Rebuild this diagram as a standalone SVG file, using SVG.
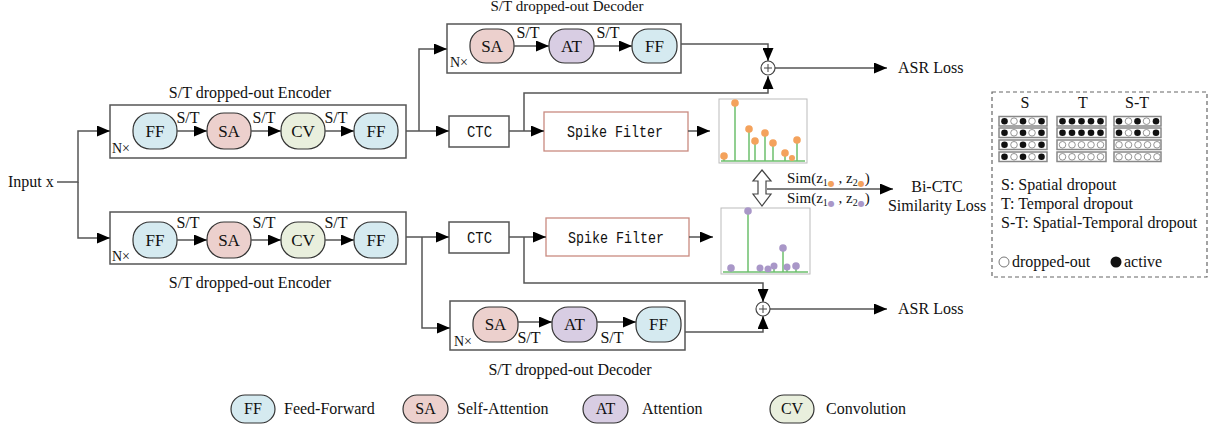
<svg xmlns="http://www.w3.org/2000/svg" width="1217" height="434" viewBox="0 0 1217 434">
<style>
text{font-family:"Liberation Serif","Times New Roman",serif;fill:#111}
.lbl{font-size:16px}
.nt{font-size:17px;text-anchor:middle}
.mono{font-family:"Liberation Mono","Courier New",monospace;font-size:16px}
.box{fill:#fff;stroke:#555;stroke-width:1.5}
.ln{fill:none;stroke:#555;stroke-width:1.5}
.ff{fill:#d5eaf0;stroke:#333;stroke-width:1.2}
.sa{fill:#ecd0cd;stroke:#333;stroke-width:1.2}
.at{fill:#d8cde3;stroke:#333;stroke-width:1.2}
.cv{fill:#e9efdd;stroke:#333;stroke-width:1.2}
.stem{stroke:#6cbf6c;stroke-width:1.5}
.od{fill:#f4a25c}
.pd{fill:#a997c8}
.row{fill:#fff;stroke:#888;stroke-width:1.5}
.on{fill:#111}
.off{fill:#fff;stroke:#888;stroke-width:0.9}
</style>
<defs>
<marker id="ah" viewBox="0 0 13 11" refX="13" refY="5.5" markerWidth="13" markerHeight="11" markerUnits="userSpaceOnUse" orient="auto"><path d="M0,0 L13,5.5 L0,11 z" fill="#000"/></marker>
</defs>

<text class="lbl" x="8" y="187">Input x</text>

<!-- top encoder -->
<g id="enc1">
  <text class="lbl" x="250" y="98" text-anchor="middle">S/T dropped-out Encoder</text>
  <rect class="box" x="110" y="105" width="296" height="53"/>
  <text x="112" y="153" font-size="14">N×</text>
  <rect class="ff" x="133" y="113" width="44" height="36" rx="17"/><text class="nt" x="155" y="137">FF</text>
  <rect class="sa" x="207" y="113" width="44" height="36" rx="17"/><text class="nt" x="229" y="137">SA</text>
  <rect class="cv" x="281" y="113" width="44" height="36" rx="17"/><text class="nt" x="303" y="137">CV</text>
  <rect class="ff" x="354" y="113" width="44" height="36" rx="17"/><text class="nt" x="376" y="137">FF</text>
  <text class="lbl" x="188" y="123" text-anchor="middle">S/T</text>
  <text class="lbl" x="264" y="123" text-anchor="middle">S/T</text>
  <text class="lbl" x="336" y="123" text-anchor="middle">S/T</text>
</g>

<!-- bottom encoder -->
<g id="enc2">
  <rect class="box" x="110" y="212" width="296" height="52"/>
  <text x="112" y="261" font-size="14">N×</text>
  <rect class="ff" x="133" y="222" width="44" height="36" rx="17"/><text class="nt" x="155" y="246">FF</text>
  <rect class="sa" x="207" y="222" width="44" height="36" rx="17"/><text class="nt" x="229" y="246">SA</text>
  <rect class="cv" x="281" y="222" width="44" height="36" rx="17"/><text class="nt" x="303" y="246">CV</text>
  <rect class="ff" x="354" y="222" width="44" height="36" rx="17"/><text class="nt" x="376" y="246">FF</text>
  <text class="lbl" x="188" y="228" text-anchor="middle">S/T</text>
  <text class="lbl" x="264" y="228" text-anchor="middle">S/T</text>
  <text class="lbl" x="336" y="228" text-anchor="middle">S/T</text>
  <text class="lbl" x="250" y="288" text-anchor="middle">S/T dropped-out Encoder</text>
</g>

<!-- top decoder -->
<g id="dec1">
  <text x="567" y="11" font-size="15" text-anchor="middle">S/T dropped-out Decoder</text>
  <rect class="box" x="447" y="24" width="234" height="49"/>
  <text x="450" y="67" font-size="14">N×</text>
  <rect class="sa" x="470" y="29" width="44" height="34" rx="16"/><text class="nt" x="492" y="52">SA</text>
  <rect class="at" x="549" y="29" width="45" height="34" rx="16"/><text class="nt" x="571.5" y="52">AT</text>
  <rect class="ff" x="632" y="29" width="45" height="34" rx="16"/><text class="nt" x="654.5" y="52">FF</text>
  <text class="lbl" x="528" y="38" text-anchor="middle">S/T</text>
  <text class="lbl" x="608" y="38" text-anchor="middle">S/T</text>
</g>

<!-- bottom decoder -->
<g id="dec2">
  <rect class="box" x="450" y="301" width="235" height="49"/>
  <text x="454" y="346" font-size="14">N×</text>
  <rect class="sa" x="473" y="307" width="45" height="35" rx="16"/><text class="nt" x="495.5" y="330">SA</text>
  <rect class="at" x="552" y="307" width="45" height="35" rx="16"/><text class="nt" x="574.5" y="330">AT</text>
  <rect class="ff" x="636" y="307" width="45" height="35" rx="16"/><text class="nt" x="658.5" y="330">FF</text>
  <text class="lbl" x="529" y="343" text-anchor="middle">S/T</text>
  <text class="lbl" x="612" y="343" text-anchor="middle">S/T</text>
  <text class="lbl" x="570" y="375" text-anchor="middle">S/T dropped-out Decoder</text>
</g>

<!-- CTC + spike filters -->
<g id="ctc1">
  <rect class="box" x="449" y="116" width="60" height="31"/>
  <text class="mono" x="467" y="137" textLength="25" lengthAdjust="spacingAndGlyphs">CTC</text>
</g>
<g id="ctc2">
  <rect class="box" x="449" y="222" width="60" height="31"/>
  <text class="mono" x="467" y="243" textLength="25" lengthAdjust="spacingAndGlyphs">CTC</text>
</g>
<g id="spike1">
  <rect x="544" y="112" width="144" height="39" fill="#fff" stroke="#c98a80" stroke-width="1.3"/>
  <text class="mono" x="567" y="137" textLength="96" lengthAdjust="spacingAndGlyphs">Spike Filter</text>
</g>
<g id="spike2">
  <rect x="546" y="218" width="143" height="38" fill="#fff" stroke="#c98a80" stroke-width="1.3"/>
  <text class="mono" x="568" y="243" textLength="96" lengthAdjust="spacingAndGlyphs">Spike Filter</text>
</g>

<!-- chart 1 -->
<g id="chart1">
  <rect x="719" y="99" width="88" height="64" fill="#fff" stroke="#bbb" stroke-width="1"/>
  <line class="stem" x1="721" y1="161" x2="805" y2="161"/>
  <line class="stem" x1="724" y1="156" x2="724" y2="161"/>
  <line class="stem" x1="735" y1="103" x2="735" y2="161"/>
  <line class="stem" x1="749" y1="129" x2="749" y2="161"/>
  <line class="stem" x1="755" y1="141" x2="755" y2="161"/>
  <line class="stem" x1="765" y1="133" x2="765" y2="161"/>
  <line class="stem" x1="773" y1="143" x2="773" y2="161"/>
  <line class="stem" x1="785" y1="153" x2="785" y2="161"/>
  <line class="stem" x1="792" y1="159" x2="792" y2="161"/>
  <line class="stem" x1="797" y1="140" x2="797" y2="161"/>
  <circle class="od" cx="724" cy="156" r="3.8"/>
  <circle class="od" cx="735" cy="103" r="3.8"/>
  <circle class="od" cx="749" cy="129" r="3.8"/>
  <circle class="od" cx="755" cy="141" r="3.8"/>
  <circle class="od" cx="765" cy="133" r="3.8"/>
  <circle class="od" cx="773" cy="143" r="3.8"/>
  <circle class="od" cx="785" cy="153" r="3.8"/>
  <circle class="od" cx="792" cy="158" r="3"/>
  <circle class="od" cx="797" cy="140" r="3.8"/>
</g>

<!-- chart 2 -->
<g id="chart2">
  <rect x="721" y="208" width="89" height="66" fill="#fff" stroke="#bbb" stroke-width="1"/>
  <line class="stem" x1="723" y1="272" x2="808" y2="272"/>
  <line class="stem" x1="731" y1="268" x2="731" y2="272"/>
  <line class="stem" x1="748" y1="211" x2="748" y2="272"/>
  <line class="stem" x1="760" y1="268" x2="760" y2="272"/>
  <line class="stem" x1="768" y1="269" x2="768" y2="272"/>
  <line class="stem" x1="774" y1="266" x2="774" y2="272"/>
  <line class="stem" x1="783" y1="248" x2="783" y2="272"/>
  <line class="stem" x1="787" y1="267" x2="787" y2="272"/>
  <line class="stem" x1="796" y1="266" x2="796" y2="272"/>
  <circle class="pd" cx="731" cy="268" r="3.8"/>
  <circle class="pd" cx="748" cy="211" r="3.8"/>
  <circle class="pd" cx="760" cy="268" r="3.5"/>
  <circle class="pd" cx="768" cy="269" r="3.5"/>
  <circle class="pd" cx="774" cy="266" r="3.5"/>
  <circle class="pd" cx="783" cy="248" r="3.8"/>
  <circle class="pd" cx="787" cy="267" r="3.5"/>
  <circle class="pd" cx="796" cy="266" r="3.8"/>
</g>

<!-- connectors -->
<g id="connectors">
  <polyline class="ln" points="57,182 78,182 78,131 110,131" marker-end="url(#ah)"/>
  <polyline class="ln" points="78,182 78,238 110,238" marker-end="url(#ah)"/>
  <line class="ln" x1="177" y1="131" x2="207" y2="131" marker-end="url(#ah)"/>
  <line class="ln" x1="251" y1="131" x2="281" y2="131" marker-end="url(#ah)"/>
  <line class="ln" x1="325" y1="131" x2="354" y2="131" marker-end="url(#ah)"/>
  <line class="ln" x1="177" y1="240" x2="207" y2="240" marker-end="url(#ah)"/>
  <line class="ln" x1="251" y1="240" x2="281" y2="240" marker-end="url(#ah)"/>
  <line class="ln" x1="325" y1="240" x2="354" y2="240" marker-end="url(#ah)"/>
  <line class="ln" x1="406" y1="131" x2="449" y2="131" marker-end="url(#ah)"/>
  <polyline class="ln" points="419,131 419,49 447,49" marker-end="url(#ah)"/>
  <line class="ln" x1="406" y1="237" x2="449" y2="237" marker-end="url(#ah)"/>
  <polyline class="ln" points="422,237 422,328 450,328" marker-end="url(#ah)"/>
  <line class="ln" x1="514" y1="46" x2="549" y2="46" marker-end="url(#ah)"/>
  <line class="ln" x1="594" y1="46" x2="632" y2="46" marker-end="url(#ah)"/>
  <line class="ln" x1="518" y1="322" x2="552" y2="322" marker-end="url(#ah)"/>
  <line class="ln" x1="597" y1="322" x2="636" y2="322" marker-end="url(#ah)"/>
  <line class="ln" x1="509" y1="131" x2="544" y2="131" marker-end="url(#ah)"/>
  <line class="ln" x1="509" y1="237" x2="546" y2="237" marker-end="url(#ah)"/>
  <line class="ln" x1="688" y1="131" x2="710" y2="131" marker-end="url(#ah)"/>
  <line class="ln" x1="689" y1="237" x2="713" y2="237" marker-end="url(#ah)"/>
  <polyline class="ln" points="524,131 524,93 768,93 768,76" marker-end="url(#ah)"/>
  <polyline class="ln" points="524,237 524,283 763,283 763,302" marker-end="url(#ah)"/>
  <polyline class="ln" points="681,44 768,44 768,61" marker-end="url(#ah)"/>
  <polyline class="ln" points="685,332 763,332 763,316" marker-end="url(#ah)"/>
  <line class="ln" x1="775" y1="68" x2="887" y2="68" marker-end="url(#ah)"/>
  <line class="ln" x1="770" y1="309" x2="887" y2="309" marker-end="url(#ah)"/>
  <line class="ln" x1="767" y1="189" x2="893" y2="189" marker-end="url(#ah)"/>
</g>

<!-- sums -->
<g id="sum1">
  <circle cx="768" cy="68" r="7" fill="#fff" stroke="#444" stroke-width="1.2"/>
  <path d="M764,68 H772 M768,64 V72" stroke="#444" stroke-width="1"/>
</g>
<g id="sum2">
  <circle cx="763" cy="309" r="7" fill="#fff" stroke="#444" stroke-width="1.2"/>
  <path d="M759,309 H767 M763,305 V313" stroke="#444" stroke-width="1"/>
</g>
<text class="lbl" x="898" y="73">ASR Loss</text>
<text class="lbl" x="898" y="314">ASR Loss</text>

<!-- similarity -->
<g id="sim">
  <polygon points="762,170 771,181 766,181 766,194 771,194 762,206 753,194 758,194 758,181 753,181" fill="#fff" stroke="#444" stroke-width="1.2"/>
  <text x="787" y="183" font-size="15">Sim(z<tspan font-size="10" dy="3">1</tspan><tspan font-family="DejaVu Sans" font-size="8" fill="#f4a25c">●</tspan><tspan dy="-3"> , z</tspan><tspan font-size="10" dy="3">2</tspan><tspan font-family="DejaVu Sans" font-size="8" fill="#f4a25c">●</tspan><tspan dy="-3">)</tspan></text>
  <text x="787" y="203" font-size="15">Sim(z<tspan font-size="10" dy="3">1</tspan><tspan font-family="DejaVu Sans" font-size="8" fill="#a997c8">●</tspan><tspan dy="-3"> , z</tspan><tspan font-size="10" dy="3">2</tspan><tspan font-family="DejaVu Sans" font-size="8" fill="#a997c8">●</tspan><tspan dy="-3">)</tspan></text>
  <text class="lbl" x="937" y="192" text-anchor="middle">Bi-CTC</text>
  <text class="lbl" x="937" y="211" text-anchor="middle">Similarity Loss</text>
</g>

<!-- dropout legend -->
<g id="dropout-legend">
  <rect x="992" y="92" width="215" height="185" fill="none" stroke="#666" stroke-width="1.2" stroke-dasharray="4,3"/>
  <text class="lbl" x="1025" y="108" text-anchor="middle">S</text>
  <text class="lbl" x="1083" y="108" text-anchor="middle">T</text>
  <text class="lbl" x="1137" y="108" text-anchor="middle">S-T</text>
  <g>
    <rect class="row" x="999" y="116.5" width="48" height="9.5"/>
    <rect class="row" x="999" y="128" width="48" height="9.5"/>
    <rect class="row" x="999" y="140" width="48" height="9.5"/>
    <rect class="row" x="999" y="152" width="48" height="9.5"/>
    <g id="srow"><circle class="on" cx="1004.5" cy="121.2" r="3.3"/><circle class="off" cx="1014" cy="121.2" r="3.3"/><circle class="on" cx="1023" cy="121.2" r="3.3"/><circle class="off" cx="1032" cy="121.2" r="3.3"/><circle class="on" cx="1041.5" cy="121.2" r="3.3"/></g>
    <use href="#srow" y="11.6"/><use href="#srow" y="23.6"/><use href="#srow" y="35.6"/>
  </g>
  <g>
    <rect class="row" x="1057" y="116.5" width="49" height="9.5"/>
    <rect class="row" x="1057" y="128" width="49" height="9.5"/>
    <rect class="row" x="1057" y="140" width="49" height="9.5"/>
    <rect class="row" x="1057" y="152" width="49" height="9.5"/>
    <g id="trow"><circle class="on" cx="1062.5" cy="121.2" r="3.3"/><circle class="on" cx="1072" cy="121.2" r="3.3"/><circle class="on" cx="1081.5" cy="121.2" r="3.3"/><circle class="on" cx="1091" cy="121.2" r="3.3"/><circle class="on" cx="1100.5" cy="121.2" r="3.3"/></g>
    <use href="#trow" y="11.6"/>
    <g id="erow"><circle class="off" cx="1062.5" cy="144.8" r="3.3"/><circle class="off" cx="1072" cy="144.8" r="3.3"/><circle class="off" cx="1081.5" cy="144.8" r="3.3"/><circle class="off" cx="1091" cy="144.8" r="3.3"/><circle class="off" cx="1100.5" cy="144.8" r="3.3"/></g>
    <use href="#erow" y="12"/>
  </g>
  <g>
    <rect class="row" x="1114" y="116.5" width="47" height="9.5"/>
    <rect class="row" x="1114" y="128" width="47" height="9.5"/>
    <rect class="row" x="1114" y="140" width="47" height="9.5"/>
    <rect class="row" x="1114" y="152" width="47" height="9.5"/>
    <use href="#srow" x="114.5"/><use href="#srow" x="114.5" y="11.6"/>
    <use href="#erow" x="56.5"/><use href="#erow" x="56.5" y="12"/>
  </g>
  <text class="lbl" x="1001" y="190">S: Spatial dropout</text>
  <text class="lbl" x="1001" y="209">T: Temporal dropout</text>
  <text class="lbl" x="1001" y="228">S-T: Spatial-Temporal dropout</text>
  <circle cx="1004" cy="262" r="5" fill="#fff" stroke="#777" stroke-width="1"/>
  <text class="lbl" x="1012" y="267">dropped-out</text>
  <circle cx="1116" cy="262" r="5.5" fill="#111"/>
  <text class="lbl" x="1124" y="267">active</text>
</g>

<!-- bottom legend -->
<g id="legend">
  <rect class="ff" x="231" y="395" width="44" height="28" rx="14"/><text x="253" y="414" font-size="16" text-anchor="middle">FF</text>
  <text class="lbl" x="284" y="414">Feed-Forward</text>
  <rect class="sa" x="403" y="395" width="45" height="28" rx="14"/><text x="425.5" y="414" font-size="16" text-anchor="middle">SA</text>
  <text class="lbl" x="457" y="414">Self-Attention</text>
  <rect class="at" x="583" y="395" width="45" height="28" rx="14"/><text x="605.5" y="414" font-size="16" text-anchor="middle">AT</text>
  <text class="lbl" x="642" y="414">Attention</text>
  <rect class="cv" x="770" y="395" width="44" height="28" rx="14"/><text x="792" y="414" font-size="16" text-anchor="middle">CV</text>
  <text class="lbl" x="826" y="414">Convolution</text>
</g>
</svg>
